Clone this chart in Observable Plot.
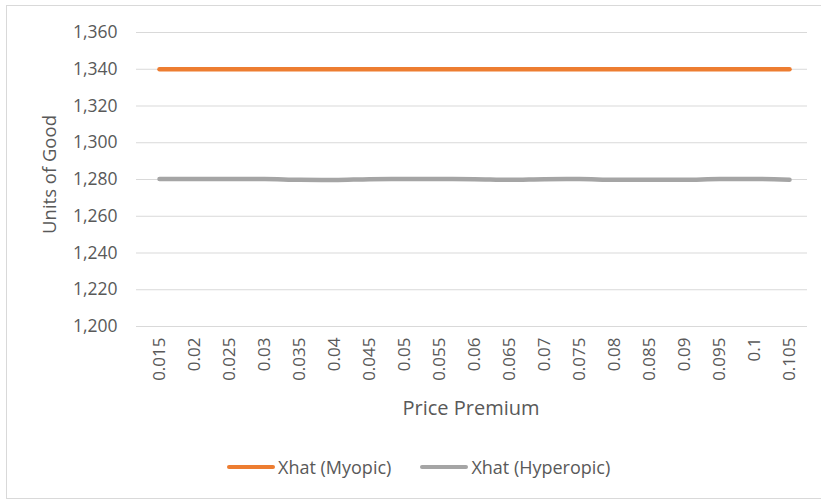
<!DOCTYPE html>
<html>
<head>
<meta charset="utf-8">
<script src="https://cdn.jsdelivr.net/npm/d3@7"></script>
<script src="https://cdn.jsdelivr.net/npm/@observablehq/plot@0.6"></script>
<style>
  html, body { margin: 0; padding: 0; background: #fff; }
  body { width: 821px; height: 502px; position: relative; overflow: hidden; font-family: "Open Sans", Lato, sans-serif; }
  #frame { position: absolute; left: 6px; top: 5px; width: 830px; height: 494px; border: 1px solid #d9d9d9; box-sizing: border-box; }
  #chart { position: absolute; left: 0; top: 0; }
  #legend { position: absolute; left: 227px; top: 455px; display: flex; align-items: center; font-size: 18px; color: #595959; }
  .item { display: flex; align-items: center; margin-right: 29px; }
  .swatch { width: 48px; height: 4px; border-radius: 2px; margin-right: 3px; }
</style>
</head>
<body>
<div id="frame"></div>
<div id="chart"></div>
<div id="legend"></div>
<script>
// Price premium categories
const premiums = ["0.015","0.02","0.025","0.03","0.035","0.04","0.045","0.05","0.055","0.06",
                  "0.065","0.07","0.075","0.08","0.085","0.09","0.095","0.1","0.105"];
// Xhat (Myopic)
const myopic = [1340,1340,1340,1340,1340,1340,1340,1340,1340,1340,
                1340,1340,1340,1340,1340,1340,1340,1340,1340];
// Xhat (Hyperopic)
const hyperopic = [1280.3,1280.3,1280.3,1280.3,1279.8,1279.7,1280.2,1280.3,1280.3,1280.2,
                   1279.8,1280.2,1280.3,1279.8,1279.8,1279.8,1280.3,1280.3,1279.8];
const yTicks = [1200,1220,1240,1260,1280,1300,1320,1340,1360];

const seriesNames = ["Xhat (Myopic)", "Xhat (Hyperopic)"];
const seriesColors = ["#ED7D31", "#A5A5A5"];

const rows = [
  ...premiums.map((p, i) => ({premium: p, value: myopic[i], series: seriesNames[0]})),
  ...premiums.map((p, i) => ({premium: p, value: hyperopic[i], series: seriesNames[1]}))
];

const fmt = d3.format(",");

const chart = Plot.plot({
  width: 821,
  height: 440,
  marginLeft: 140,
  marginRight: 14,
  marginTop: 32,
  marginBottom: 114,
  style: {fontFamily: "'Open Sans', Lato, sans-serif", fontSize: "16px", color: "#595959", background: "transparent"},
  x: {type: "point", domain: premiums, padding: 0.5, label: null},
  y: {domain: [1200, 1360], label: null},
  color: {domain: seriesNames, range: seriesColors},
  marks: [
    Plot.ruleY(yTicks, {stroke: "#d9d9d9", strokeWidth: 1, insetLeft: -4}),
    Plot.axisY({ticks: yTicks, tickFormat: fmt, tickSize: 0, tickPadding: 23, label: null, fill: "#595959", fontSize: 17.5}),
    Plot.axisX({tickSize: 0, tickPadding: 11, tickRotate: -90, label: null, fill: "#595959", fontSize: 17}),
    Plot.line(rows, {x: "premium", y: "value", z: "series", stroke: "series", strokeWidth: 4.5, curve: "monotone-x", strokeLinecap: "round"}),
    Plot.text(["Price Premium"], {frameAnchor: "bottom", dx: -3, dy: 82, lineAnchor: "middle", fontSize: 20, fill: "#595959"}),
    Plot.text(["Units of Good"], {frameAnchor: "left", dx: -90, dy: -5, rotate: -90, textAnchor: "middle", fontSize: 18.5, fill: "#595959"})
  ]
});
document.getElementById("chart").appendChild(chart);

// Legend below the plot
const legend = document.getElementById("legend");
seriesNames.forEach((name, i) => {
  const item = document.createElement("div");
  item.className = "item";
  const sw = document.createElement("div");
  sw.className = "swatch";
  sw.style.background = seriesColors[i];
  const label = document.createElement("span");
  label.textContent = name;
  item.appendChild(sw);
  item.appendChild(label);
  legend.appendChild(item);
});
</script>
</body>
</html>
